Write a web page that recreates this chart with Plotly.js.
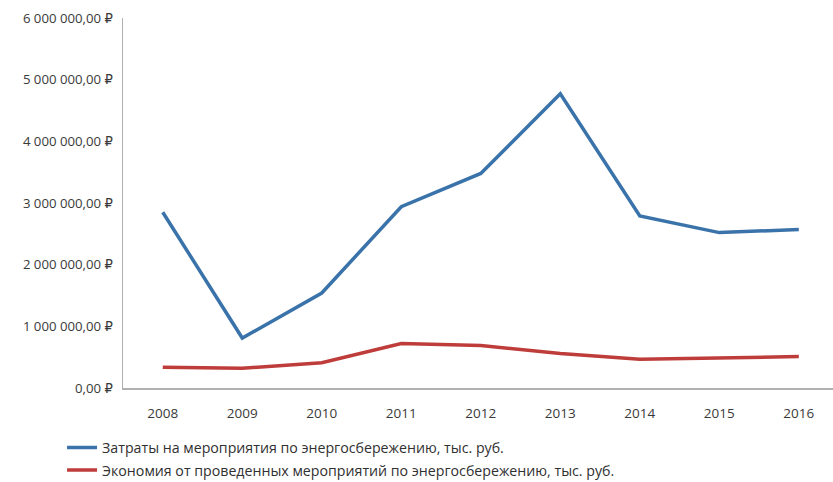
<!DOCTYPE html>
<html>
<head>
<meta charset="utf-8">
<script src="https://cdn.plot.ly/plotly-3.0.1.min.js"></script>
<style>html,body{margin:0;padding:0;background:#fff;}#chart{width:833px;height:482px;}</style>
</head>
<body>
<div id="chart"></div>
<script>
const years = ['2008','2009','2010','2011','2012','2013','2014','2015','2016'];
const costs = [2850000, 810000, 1540000, 2940000, 3480000, 4770000, 2790000, 2520000, 2570000];
const savings = [335000, 320000, 410000, 720000, 690000, 560000, 465000, 490000, 510000];
const costsName = 'Затраты на мероприятия по энергосбережению, тыс. руб.';
const savingsName = 'Экономия от проведенных мероприятий по энергосбережению, тыс. руб.';
const yTickVals = [0, 1000000, 2000000, 3000000, 4000000, 5000000, 6000000];
const yTickText = ['0,00 ₽', '1 000 000,00 ₽', '2 000 000,00 ₽', '3 000 000,00 ₽', '4 000 000,00 ₽', '5 000 000,00 ₽', '6 000 000,00 ₽'];

const font = '"Open Sans", "DejaVu Sans", sans-serif';
const data = [
  {x: years, y: costs, name: costsName, type: 'scatter', mode: 'lines',
   line: {color: '#3A73AA', width: 3.5}, legendgroup: 'a'},
  {x: years, y: savings, name: savingsName, type: 'scatter', mode: 'lines',
   line: {color: '#BE3D3B', width: 3.5}, legendgroup: 'b'}
];
const layout = {
  width: 833, height: 482,
  margin: {l: 123, r: 0, t: 18, b: 94, autoexpand: false},
  paper_bgcolor: '#fff', plot_bgcolor: '#fff',
  font: {family: font, color: '#404040', size: 13},
  xaxis: {type: 'category', range: [-0.5, 8.43], showline: true, linecolor: '#B0B0B0', linewidth: 1.5,
          showgrid: false, zeroline: false, ticks: '', ticklabelstandoff: 12, tickangle: 0,
          automargin: false, tickfont: {family: font, size: 13.5, color: '#3a3a3a'}},
  yaxis: {range: [0, 6000000], tickvals: yTickVals, ticktext: yTickText, showline: true,
          linecolor: '#B0B0B0', linewidth: 1.5, showgrid: false, zeroline: false, ticks: '',
          automargin: false, ticklabelstandoff: 6, tickfont: {family: font, size: 13.2, color: '#3a3a3a'}},
  showlegend: true,
  legend: {xref: 'container', yref: 'container', x: 0.0745, y: 0.104, xanchor: 'left', yanchor: 'top',
           orientation: 'v', tracegroupgap: 1, itemwidth: 30,
           font: {family: font, size: 14.2, color: '#303030'}, bgcolor: 'rgba(0,0,0,0)'}
};
Plotly.newPlot('chart', data, layout, {displayModeBar: false, staticPlot: true});
</script>
</body>
</html>
